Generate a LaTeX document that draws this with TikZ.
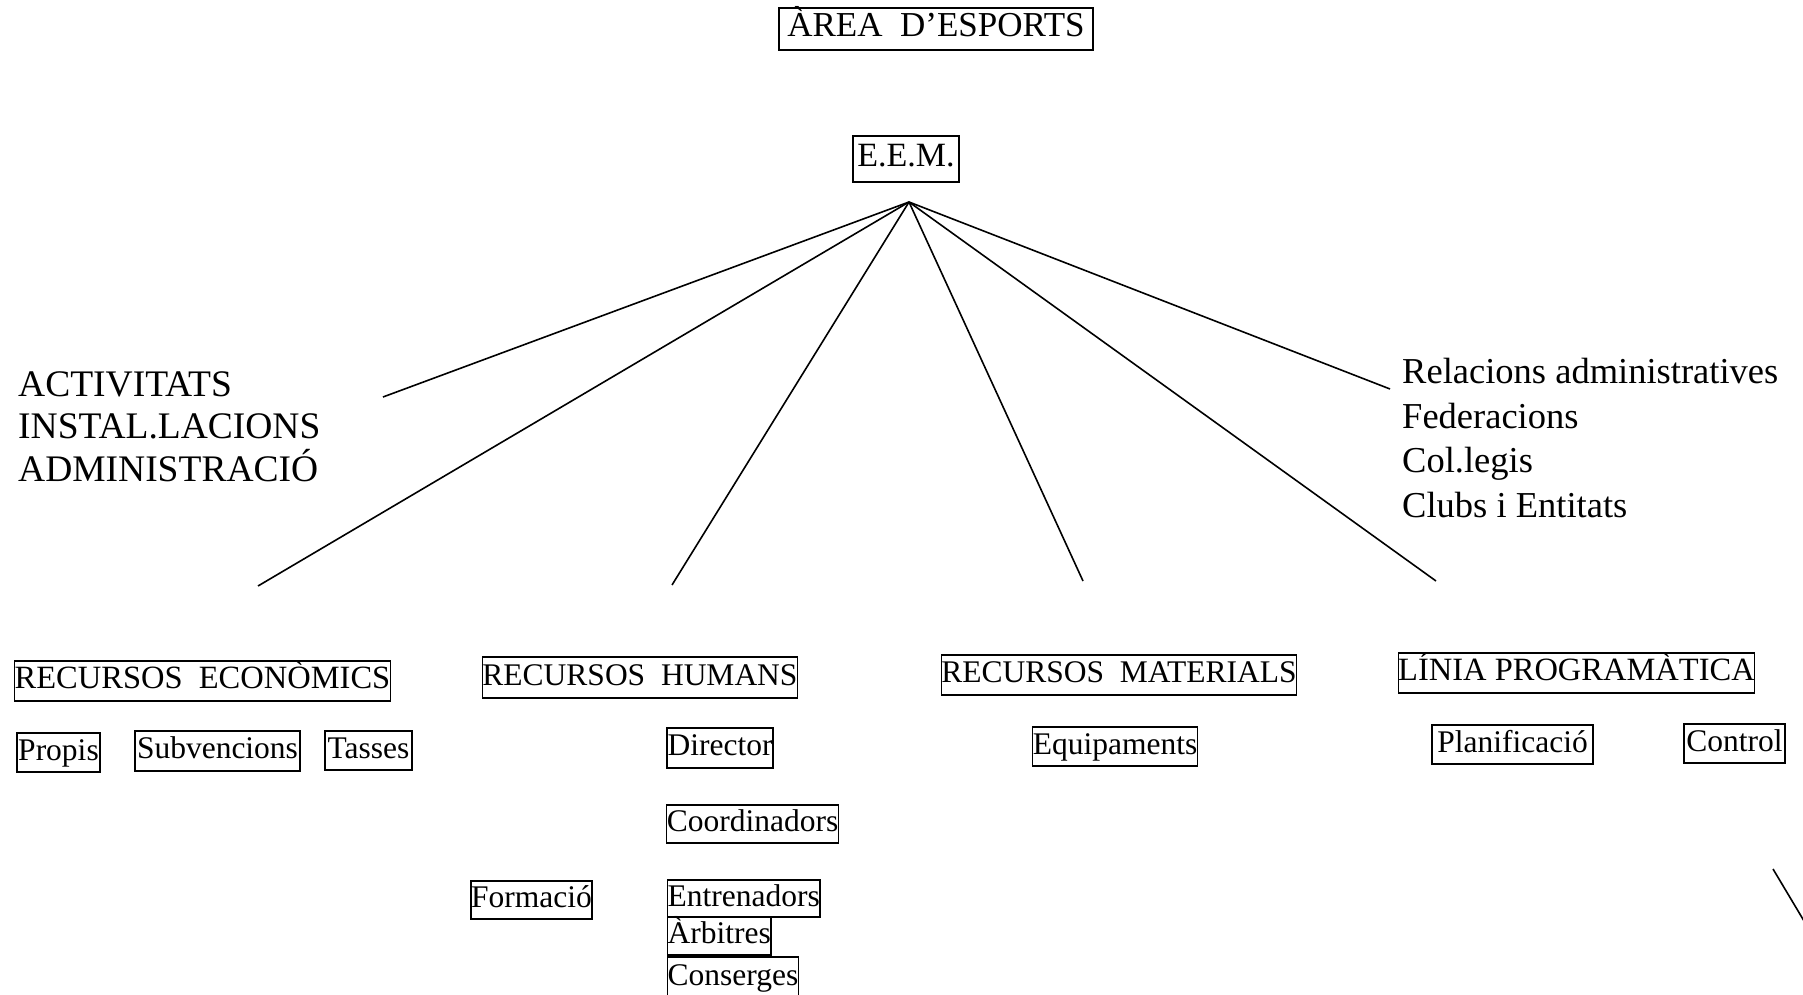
\documentclass[tikz,border=0pt]{standalone}
\usepackage{fontspec}
\setmainfont{Liberation Serif}
\begin{document}
\begin{tikzpicture}[x=1pt,y=-1pt,
  bx/.style 2 args={draw, line width=1.3pt, inner sep=0pt, font=\fontsize{31.5}{37}\selectfont,
    text height=21pt, text depth=6pt, minimum width=#1pt, minimum height=#2pt},
  big/.style={font=\fontsize{32.5}{38}\selectfont},
  conn/.style={line width=1.6pt},
  listtext/.style={inner sep=0pt, anchor=north west, align=left}]
\useasboundingbox (0,0) rectangle (1803,995);
\clip (0,0) rectangle (1803,995);
% top boxes
\node[bx={314}{42}, font=\fontsize{35}{40}\selectfont] (area) at (936,29) {ÀREA\ \ D’ESPORTS};
\node[bx={106}{46}, font=\fontsize{34}{40}\selectfont] (eem) at (906,159) {E.E.M.};
\coordinate (apex) at (909,202);
% free ends of the connectors
\coordinate (e1) at (383,397);
\coordinate (e2) at (258,586);
\coordinate (e3) at (672,585);
\coordinate (e4) at (1083,581);
\coordinate (e5) at (1436,581);
\coordinate (e6) at (1390,389);
\foreach \e in {e1,e2,e3,e4,e5,e6} \draw[conn] (apex) -- (\e);
% side lists
\node[listtext, font=\fontsize{37.5}{42.5}\selectfont] (left) at (18,371)
  {ACTIVITATS\\INSTAL.LACIONS\\ADMINISTRACIÓ};
\node[listtext, font=\fontsize{36.5}{44.5}\selectfont] (right) at (1402,358)
  {Relacions administratives\\Federacions\\Col.legis\\Clubs i Entitats};
% main boxes
\node[bx={371}{40}, big] (reco) at (202.5,681) {RECURSOS\ \ ECONÒMICS};
\node[bx={83}{39}] (propis) at (58.5,752.5) {Propis};
\node[bx={165}{40}] (subv) at (217.5,751) {Subvencions};
\node[bx={87}{39}] (tasses) at (368.5,750.5) {Tasses};
\node[bx={310}{41}] (rhum) at (640,677.5) {RECURSOS\ \ HUMANS};
\node[bx={106}{40}] (director) at (720,748) {Director};
\node[bx={171}{38}] (coord) at (752.5,824) {Coordinadors};
\node[bx={119}{38}] (formacio) at (531.5,900) {Formació};
\node[bx={152}{37}, anchor=west] (entren) at (667,898.5) {Entrenadors};
\node[bx={102}{38}, anchor=west] (arbitres) at (667,936) {Àrbitres};
\node[bx={128}{42}, anchor=west] (conserges) at (667,978) {Conserges};
\node[bx={354}{40}] (rmat) at (1119,675) {RECURSOS\ \ MATERIALS};
\node[bx={164}{39}] (equip) at (1115,746.5) {Equipaments};
\node[bx={355}{40}, big] (linia) at (1576.5,673) {LÍNIA PROGRAMÀTICA};
\node[bx={161}{39}] (planif) at (1512.5,744.5) {Planificació};
\node[bx={101}{39}] (control) at (1734.5,743.5) {Control};
% stray stroke at bottom right
\coordinate (s1) at (1773,869);
\coordinate (s2) at (1810,931);
\draw[conn] (s1) -- (s2);
\end{tikzpicture}
\end{document}
